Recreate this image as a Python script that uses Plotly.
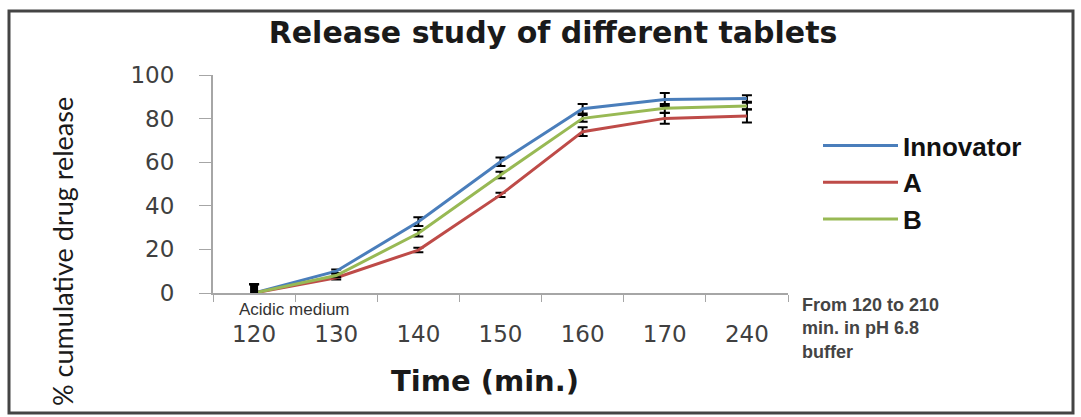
import plotly.graph_objects as go

# ---- data ----
time_labels = ["120", "130", "140", "150", "160", "170", "240"]
innovator = [0, 10, 32.7, 60.2, 84.5, 88.8, 89.2]
tablet_a = [0, 7, 19.7, 45, 74, 80.1, 81.2]
tablet_b = [0, 8, 27.4, 54.1, 80.1, 84.7, 85.8]
innovator_err = [4, 0.8, 2, 2, 2.2, 3, 1.5]
tablet_a_err = [4, 0.8, 1, 1, 2, 2.5, 3]
tablet_b_err = [4, 0.8, 1.5, 1.5, 1.5, 2, 1.5]

series = [
    ("Innovator", innovator, innovator_err, "#4a7ebb"),
    ("A", tablet_a, tablet_a_err, "#be4b48"),
    ("B", tablet_b, tablet_b_err, "#98b954"),
]

W, H = 1081, 417
L, R, T, B = 213, 788, 75, 293


def px(x):
    return (x - L) / (R - L)


def py(y):
    return (B - y) / (B - T)


fig = go.Figure()
for name, vals, errs, col in series:
    fig.add_trace(go.Scatter(
        x=time_labels, y=vals, name=name, mode="lines",
        line=dict(color=col, width=3),
        error_y=dict(type="data", array=errs, color="black", thickness=2, width=5),
    ))

# heavy error mark at the first (acidic medium) point
fig.add_trace(go.Scatter(
    x=time_labels[:1], y=innovator[:1], mode="markers", showlegend=False,
    marker=dict(opacity=0), hoverinfo="skip",
    error_y=dict(type="data", array=innovator_err[:1], color="black", thickness=8, width=0),
))

fig.update_layout(
    width=W, height=H,
    margin=dict(l=L, r=W - R, t=T, b=H - B),
    paper_bgcolor="white", plot_bgcolor="white",
    showlegend=True,
    legend=dict(
        x=px(818), y=py(122), xanchor="left", yanchor="top",
        font=dict(family="Liberation Sans", size=26, color="#111111", weight="bold"),
        itemwidth=75, tracegroupgap=0, bgcolor="rgba(0,0,0,0)",
    ),
    title=dict(
        text="<b>Release study of different tablets</b>",
        x=553 / W, xanchor="center", y=1 - 32 / H, yanchor="middle",
        font=dict(family="DejaVu Sans", size=30, color="#1a1a1a"),
    ),
    xaxis=dict(
        type="category", tickson="boundaries", ticks="outside", ticklen=7,
        tickcolor="#a6a6a6", showline=True, linecolor="#a6a6a6", linewidth=2,
        showgrid=False, zeroline=False, range=[-0.5, 6.5],
        tickfont=dict(family="DejaVu Sans", size=23, color="#404040"),
        ticklabelstandoff=19,
    ),
    yaxis=dict(
        range=[0, 100], tickvals=[0, 20, 40, 60, 80, 100], ticks="outside", ticklen=12,
        tickcolor="#a6a6a6", showline=True, linecolor="#a6a6a6", linewidth=2,
        showgrid=False, zeroline=False,
        tickfont=dict(family="DejaVu Sans", size=23, color="#404040"),
        ticklabelstandoff=20,
    ),
    annotations=[
        dict(text="% cumulative drug release", xref="paper", yref="paper",
             x=px(62), y=py(252), textangle=-90,
             showarrow=False, xanchor="center", yanchor="middle",
             font=dict(family="Lato", size=27, color="#1a1a1a")),
        dict(text="<b>Time (min.)</b>", xref="paper", yref="paper",
             x=px(485), y=py(381),
             showarrow=False, xanchor="center", yanchor="middle",
             font=dict(family="DejaVu Sans", size=29, color="#1a1a1a")),
        dict(text="Acidic medium", xref="paper", yref="paper",
             x=px(294), y=py(309),
             showarrow=False, xanchor="center", yanchor="middle",
             font=dict(family="Liberation Sans", size=17, color="#333333")),
        dict(text="From 120 to 210<br>min. in pH 6.8<br>buffer", xref="paper", yref="paper",
             x=px(800), y=py(293), align="left",
             showarrow=False, xanchor="left", yanchor="top",
             font=dict(family="Liberation Sans", size=18, color="#444444", weight="bold")),
    ],
    shapes=[
        dict(type="rect", xref="paper", yref="paper",
             x0=px(9), x1=px(1073), y0=py(413), y1=py(11),
             line=dict(color="#444444", width=3), layer="below"),
    ],
)

fig.write_html(
    "out.html",
    config={"displayModeBar": False},
    post_script="document.body.style.margin='0';document.body.style.overflow='hidden';",
)
